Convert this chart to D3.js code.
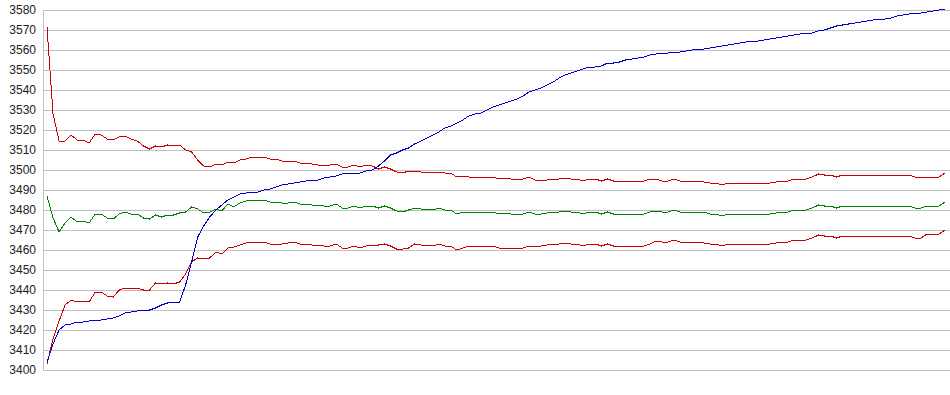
<!DOCTYPE html>
<html>
<head>
<meta charset="utf-8">
<script src="https://cdn.jsdelivr.net/npm/d3@7"></script>
<style>
  body { margin: 0; background: #fff; }
  svg { display: block; }
  .axis text { font-family: "Liberation Sans", Arial, sans-serif; font-size: 12px; fill: #222; }
  .axis line, .axis path { stroke: #c0c0c0; shape-rendering: crispEdges; }
  .series { fill: none; stroke-width: 1; shape-rendering: crispEdges; }
</style>
</head>
<body>
<svg width="950" height="395"></svg>
<script>
var yTicks = [3400, 3410, 3420, 3430, 3440, 3450, 3460, 3470, 3480, 3490, 3500,
              3510, 3520, 3530, 3540, 3550, 3560, 3570, 3580];

// cumulative line (blue)
var blue = [3404, 3413, 3420, 3422.5, 3423, 3424, 3424, 3424.5, 3425, 3425,
  3425.5, 3426, 3427, 3428.5, 3429, 3429.5, 3430, 3430, 3431, 3432.5,
  3433.5, 3434, 3434, 3442.5, 3454, 3466.5, 3472, 3476.5, 3480, 3482.5,
  3485, 3486.5, 3488, 3488.5, 3489, 3489, 3490, 3490.5, 3491.5, 3492.5,
  3493, 3493.5, 3494, 3494.5, 3495, 3495, 3496, 3496.5, 3497, 3498,
  3498.5, 3498.5, 3498.5, 3499.5, 3500, 3502, 3504.5, 3507.5, 3508.5, 3510,
  3511, 3513, 3514.5, 3516, 3517.5, 3519, 3521, 3522, 3523.5, 3525,
  3527, 3528, 3528.5, 3530, 3531.5, 3532.5, 3533.5, 3534.5, 3535.5, 3537,
  3539, 3540, 3541, 3542.5, 3544, 3546, 3547.5, 3548.5, 3549.5, 3550.5,
  3551.5, 3551.5, 3552, 3553.5, 3553.5, 3554, 3555, 3555.5, 3556, 3556.5,
  3557.5, 3558, 3558.5, 3558.5, 3559, 3559, 3559.5, 3560, 3560.5, 3560.5,
  3561, 3561.5, 3562, 3562.5, 3563, 3563.5, 3564, 3564.5, 3564.5, 3565,
  3565.5, 3566, 3566.5, 3567, 3567.5, 3568, 3568.5, 3568.5, 3569.5, 3570,
  3571, 3572, 3572.5, 3573, 3573.5, 3574, 3574.5, 3575, 3575.5, 3575.5,
  3576, 3577, 3577.5, 3578, 3578.5, 3578.5, 3579, 3579.5, 3580, 3580.5];

// middle line (green)
var middle = [3487, 3476, 3469, 3473.5, 3476.5, 3474, 3474.5, 3473.5, 3478, 3478,
  3476, 3475.5, 3478, 3479, 3478, 3478, 3476, 3475.5, 3477.5, 3476.5,
  3477.5, 3477.5, 3478.5, 3479, 3481.5, 3480.5, 3478.5, 3479, 3480.5, 3479.5,
  3483, 3481.5, 3483.5, 3484.5, 3485, 3485, 3485, 3484, 3484, 3483.5,
  3483.5, 3484, 3483, 3483, 3482.5, 3482.5, 3482, 3482, 3483, 3481,
  3481, 3482, 3481, 3482, 3482, 3481, 3482, 3481, 3479.5, 3479,
  3480, 3481, 3480.5, 3480.5, 3480, 3481, 3480, 3480, 3478, 3479,
  3479, 3479, 3478.5, 3479, 3479, 3478, 3478.5, 3478, 3478, 3478,
  3479, 3478, 3478, 3478.5, 3479, 3479, 3479.5, 3479, 3479, 3478,
  3479, 3479, 3478, 3479, 3478, 3477.5, 3478, 3478, 3478, 3478,
  3479, 3479.5, 3479, 3479, 3480, 3479, 3479, 3479, 3479, 3479,
  3478, 3478, 3477, 3478, 3478, 3478, 3478, 3478, 3478, 3478,
  3478, 3478.5, 3479, 3479, 3480, 3480, 3480, 3481, 3482.5, 3482,
  3482, 3481, 3482, 3482, 3482, 3482, 3482, 3482, 3482, 3482,
  3482, 3482, 3482, 3482, 3481, 3481, 3482, 3482, 3482, 3484];

// upper band (red)
var upper = [3571.5, 3528, 3514.5, 3514.5, 3517.5, 3515, 3515, 3513.5, 3518, 3517.5,
  3515.5, 3515, 3516.5, 3517, 3515.5, 3514.5, 3512, 3510.5, 3512, 3511.5,
  3512.5, 3512, 3512.5, 3510, 3509, 3505, 3502, 3501.5, 3503, 3502.5,
  3504, 3503.5, 3505, 3505.5, 3506.5, 3506.5, 3506.5, 3505.5, 3505.5, 3504.5,
  3504, 3504.5, 3503.5, 3503.5, 3503, 3502.5, 3502.5, 3502.5, 3503, 3501.5,
  3501.5, 3502.5, 3501.5, 3502.5, 3502, 3500.5, 3501.5, 3500.5, 3499, 3498.5,
  3499.5, 3499.5, 3499, 3499, 3498.5, 3499, 3498.5, 3498.5, 3496.5, 3497,
  3496.5, 3496.5, 3496, 3496.5, 3496.5, 3495.5, 3496, 3495.5, 3495.5, 3495.5,
  3496.5, 3495, 3494.5, 3495, 3495.5, 3495.5, 3496, 3495.5, 3495.5, 3494.5,
  3495.5, 3495.5, 3494.5, 3495.5, 3494.5, 3494, 3494.5, 3494.5, 3494.5, 3494.5,
  3495.5, 3495.5, 3494.5, 3494.5, 3495.5, 3494.5, 3494.5, 3494.5, 3494.5, 3494,
  3493.5, 3493.5, 3492.5, 3493.5, 3493.5, 3493.5, 3493.5, 3493.5, 3493.5, 3493.5,
  3493.5, 3494, 3494.5, 3494.5, 3495.5, 3495.5, 3495.5, 3496.5, 3498, 3497.5,
  3497.5, 3496.5, 3497.5, 3497.5, 3497.5, 3497.5, 3497.5, 3497.5, 3497.5, 3497.5,
  3497.5, 3497.5, 3497.5, 3497.5, 3496.5, 3496.5, 3496.5, 3496.5, 3496.5, 3498.5];

// lower band (red)
var lower = [3403, 3415.5, 3424.5, 3432.5, 3435, 3434, 3434.5, 3434, 3439, 3439,
  3437, 3436.5, 3440, 3441, 3441, 3441, 3440, 3440, 3443.5, 3443,
  3443.5, 3443, 3444, 3448, 3454, 3456, 3455.5, 3456, 3459, 3458,
  3461, 3461.5, 3462.5, 3463.5, 3464, 3464, 3464, 3463, 3463, 3463,
  3463.5, 3464, 3463, 3463, 3462.5, 3462.5, 3462, 3462, 3463, 3461,
  3461, 3462, 3461, 3462, 3462.5, 3462.5, 3463, 3462, 3460.5, 3460.5,
  3461, 3463, 3462.5, 3462.5, 3462, 3463, 3462, 3462, 3460, 3461,
  3462, 3462, 3461.5, 3462, 3462, 3461, 3461, 3461, 3461, 3461,
  3462, 3461.5, 3462, 3462.5, 3463, 3463, 3463.5, 3463, 3463, 3462,
  3463, 3463, 3462, 3463, 3462, 3461.5, 3462, 3462, 3462, 3462,
  3463, 3464.5, 3464, 3464, 3465, 3464, 3464, 3464, 3464, 3463.5,
  3463, 3463, 3462, 3463, 3463, 3463, 3463, 3463, 3463, 3463,
  3463, 3463.5, 3464, 3464, 3465, 3465, 3465, 3466, 3467.5, 3467,
  3467, 3466, 3467, 3467, 3467, 3467, 3467, 3467, 3467, 3467,
  3467, 3467, 3467, 3467, 3466, 3466, 3468, 3468, 3468, 3470];

var svg = d3.select("svg"),
    width = +svg.attr("width"),
    height = +svg.attr("height");

var left = 43;

var x = d3.scaleLinear()
    .domain([0, blue.length - 1])
    .range([47, 945]);

var y = d3.scaleLinear()
    .domain([3400, 3580])
    .range([370, 10]);

svg.append("g")
    .attr("class", "axis")
    .attr("transform", "translate(" + left + ",0)")
    .call(d3.axisLeft(y)
      .tickValues(yTicks)
      .tickFormat(d3.format("d"))
      .tickSize(-(width - left))
      .tickSizeOuter(0)
      .tickPadding(7));

var line = d3.line()
    .x(function(d, i) { return x(i); })
    .y(function(d) { return y(d); });

var series = [
  { values: upper, color: "#cc0000" },
  { values: lower, color: "#cc0000" },
  { values: middle, color: "#008000" },
  { values: blue, color: "#0000cc" }
];

svg.selectAll(".series")
  .data(series)
  .enter().append("path")
    .attr("class", "series")
    .attr("stroke", function(d) { return d.color; })
    .attr("d", function(d) { return line(d.values); });
</script>
</body>
</html>
